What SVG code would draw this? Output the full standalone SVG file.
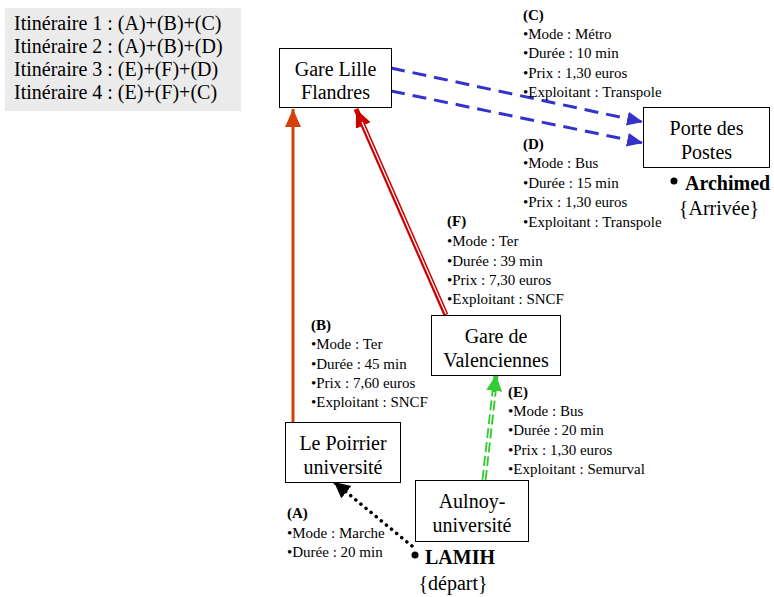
<svg xmlns="http://www.w3.org/2000/svg" width="774" height="597" viewBox="0 0 774 597">
<style>
text{font-family:"Liberation Serif","Times New Roman",serif;fill:#000}
.box{fill:#fff;stroke:#000;stroke-width:1}
.nt{font-size:20px;text-anchor:middle}
.lg{font-size:20px}
.lb{font-size:15px}
.b{font-weight:bold}
</style>
<defs>
<marker id="mB" markerUnits="userSpaceOnUse" markerWidth="20" markerHeight="20" refX="18" refY="8" orient="auto"><path d="M0,0 L18,8 L0,16 Z" fill="#d4400a"/></marker>
<marker id="mF" markerUnits="userSpaceOnUse" markerWidth="20" markerHeight="20" refX="18" refY="8" orient="auto"><path d="M0,0 L18,8 L0,16 Z" fill="#cc0000"/></marker>
<marker id="mBl" markerUnits="userSpaceOnUse" markerWidth="20" markerHeight="20" refX="16" refY="7" orient="auto"><path d="M0,0 L16,7 L0,14 Z" fill="#3333cc"/></marker>
<marker id="mG" markerUnits="userSpaceOnUse" markerWidth="20" markerHeight="20" refX="16" refY="8" orient="auto"><path d="M0,0 L16,8 L0,16 Z" fill="#33cc33"/></marker>
<marker id="mA" markerUnits="userSpaceOnUse" markerWidth="20" markerHeight="20" refX="16" refY="8" orient="auto"><path d="M0,0 L16,8 L0,16 Z" fill="#000"/></marker>
</defs>

<g id="legend">
<rect x="5" y="8" width="236" height="103" fill="#ebebeb"/>
<text class="lg" x="14" y="30">Itinéraire 1 : (A)+(B)+(C)</text>
<text class="lg" x="14" y="53">Itinéraire 2 : (A)+(B)+(D)</text>
<text class="lg" x="14" y="76">Itinéraire 3 : (E)+(F)+(D)</text>
<text class="lg" x="14" y="99">Itinéraire 4 : (E)+(F)+(C)</text>
</g>

<g id="connectors">
<line x1="293" y1="422" x2="293" y2="109" stroke="#d4400a" stroke-width="3" marker-end="url(#mB)"/>
<line x1="446" y1="315" x2="356" y2="109" stroke="#cc0000" stroke-width="5" marker-end="url(#mF)"/>
<line x1="446" y1="314" x2="362" y2="122" stroke="#fff" stroke-width="1.3"/>
<line x1="391" y1="68" x2="643" y2="122" stroke="#3333cc" stroke-width="3" stroke-dasharray="14,8" marker-end="url(#mBl)"/>
<line x1="391" y1="91" x2="643" y2="143" stroke="#3333cc" stroke-width="3" stroke-dasharray="14,8" marker-end="url(#mBl)"/>
<line x1="484" y1="480" x2="496" y2="375" stroke="#33cc33" stroke-width="5" stroke-dasharray="10,4" marker-end="url(#mG)"/>
<line x1="484" y1="480" x2="494" y2="392" stroke="#fff" stroke-width="1.3"/>
<line x1="412" y1="546" x2="334" y2="482" stroke="#000" stroke-width="3.5" stroke-linecap="round" stroke-dasharray="0.1,6.5" marker-end="url(#mA)"/>
</g>

<g id="labels">
<text class="lb" x="523"><tspan class="b" x="523" y="20">(C)</tspan><tspan x="523" y="39">•Mode : Métro</tspan><tspan x="523" y="58">•Durée : 10 min</tspan><tspan x="523" y="78">•Prix : 1,30 euros</tspan><tspan x="523" y="97">•Exploitant : Transpole</tspan></text>
<text class="lb" x="523"><tspan class="b" x="523" y="149">(D)</tspan><tspan x="523" y="168">•Mode : Bus</tspan><tspan x="523" y="188">•Durée : 15 min</tspan><tspan x="523" y="207">•Prix : 1,30 euros</tspan><tspan x="523" y="227">•Exploitant : Transpole</tspan></text>
<text class="lb" x="447"><tspan class="b" x="447" y="226">(F)</tspan><tspan x="447" y="246">•Mode : Ter</tspan><tspan x="447" y="266">•Durée : 39 min</tspan><tspan x="447" y="285">•Prix : 7,30 euros</tspan><tspan x="447" y="304">•Exploitant : SNCF</tspan></text>
<text class="lb" x="311"><tspan class="b" x="311" y="330">(B)</tspan><tspan x="311" y="349">•Mode : Ter</tspan><tspan x="311" y="369">•Durée : 45 min</tspan><tspan x="311" y="388">•Prix : 7,60 euros</tspan><tspan x="311" y="407">•Exploitant : SNCF</tspan></text>
<text class="lb" x="508"><tspan class="b" x="508" y="397">(E)</tspan><tspan x="508" y="416">•Mode : Bus</tspan><tspan x="508" y="435">•Durée : 20 min</tspan><tspan x="508" y="455">•Prix : 1,30 euros</tspan><tspan x="508" y="474">•Exploitant : Semurval</tspan></text>
<text class="lb" x="287"><tspan class="b" x="287" y="518">(A)</tspan><tspan x="287" y="538">•Mode : Marche</tspan><tspan x="287" y="557">•Durée : 20 min</tspan></text>
</g>

<g id="gare-lille-flandres">
<rect class="box" x="279.5" y="48.5" width="112" height="59"/>
<text class="nt" x="335.5" y="76">Gare Lille</text>
<text class="nt" x="335.5" y="99">Flandres</text>
</g>
<g id="porte-des-postes">
<rect class="box" x="643.5" y="107.5" width="126" height="60"/>
<text class="nt" x="706.5" y="135">Porte des</text>
<text class="nt" x="706.5" y="159">Postes</text>
</g>
<g id="archimed">
<circle cx="674" cy="181" r="3.5" fill="#000"/>
<text x="685" y="190" font-size="20" font-weight="bold">Archimed</text>
<text x="719" y="215" font-size="20" text-anchor="middle">{Arrivée}</text>
</g>
<g id="gare-de-valenciennes">
<rect class="box" x="431.5" y="315.5" width="129" height="60"/>
<text class="nt" x="496" y="343">Gare de</text>
<text class="nt" x="496" y="367">Valenciennes</text>
</g>
<g id="le-poirrier-universite">
<rect class="box" x="285.5" y="422.5" width="115" height="60"/>
<text class="nt" x="343" y="450">Le Poirrier</text>
<text class="nt" x="343" y="474">université</text>
</g>
<g id="aulnoy-universite">
<rect class="box" x="415.5" y="480.5" width="113" height="61"/>
<text class="nt" x="472" y="508">Aulnoy-</text>
<text class="nt" x="472" y="532">université</text>
</g>
<g id="lamih">
<circle cx="415" cy="555" r="3.5" fill="#000"/>
<text x="425" y="564" font-size="20" font-weight="bold">LAMIH</text>
<text x="453" y="590" font-size="20" text-anchor="middle">{départ}</text>
</g>
</svg>
